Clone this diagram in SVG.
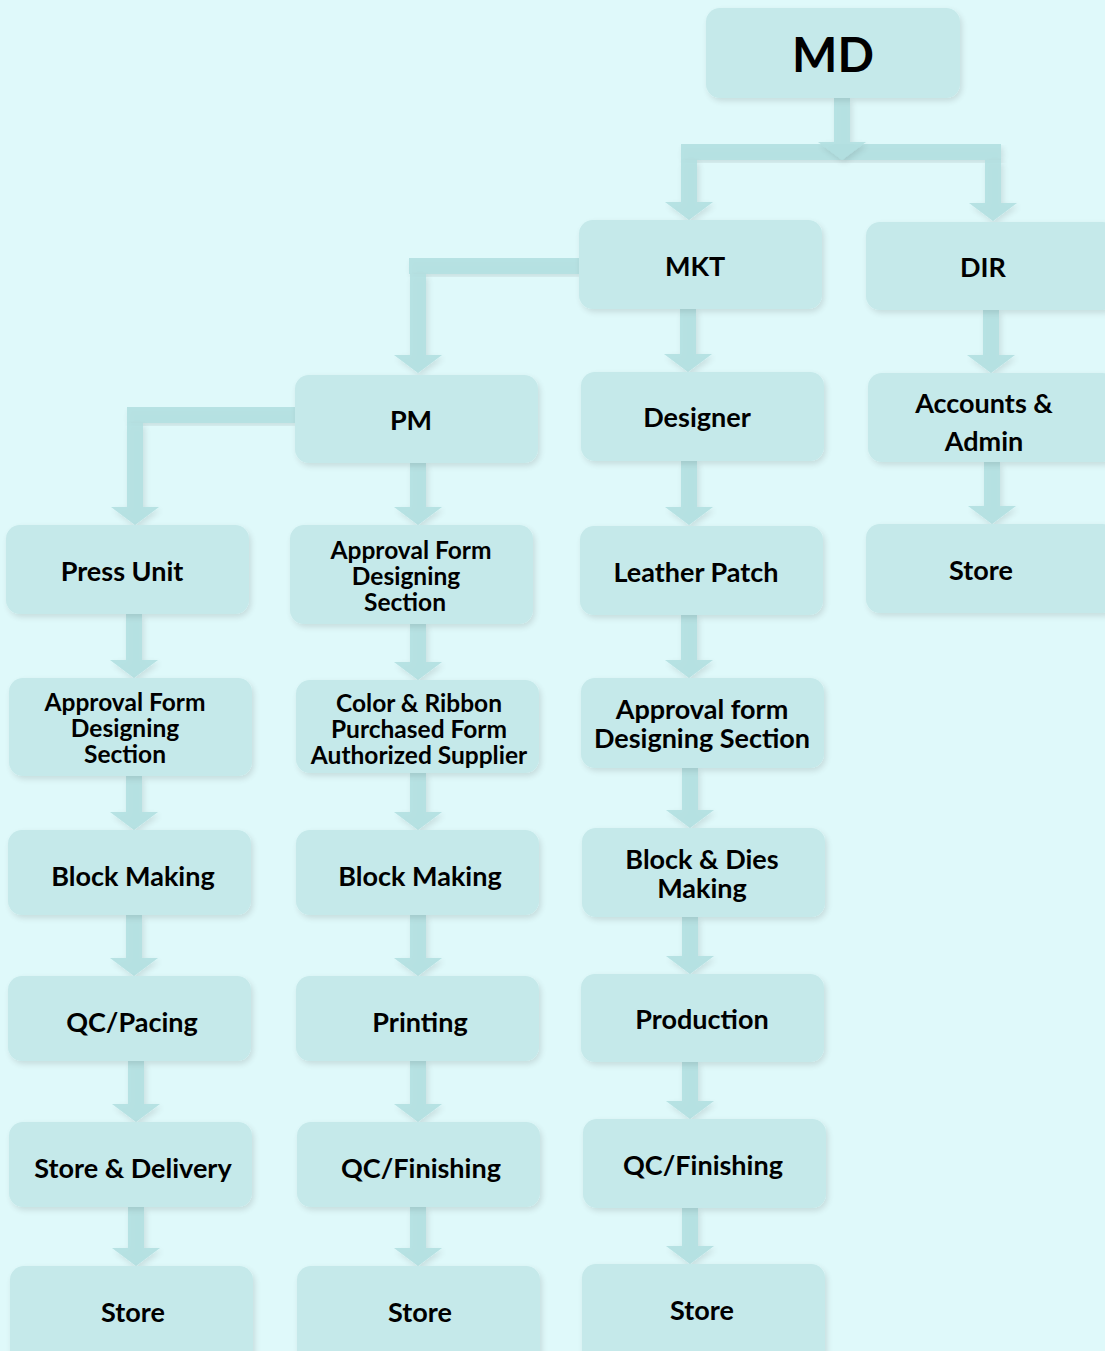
<svg xmlns="http://www.w3.org/2000/svg" width="1105" height="1351" viewBox="0 0 1105 1351">
<defs>
<filter id="sh" x="-10%" y="-10%" width="120%" height="125%">
<feGaussianBlur in="SourceAlpha" stdDeviation="3"/>
<feOffset dx="2" dy="3" result="b"/>
<feComponentTransfer><feFuncA type="linear" slope="0.12"/></feComponentTransfer>
<feMerge><feMergeNode/><feMergeNode in="SourceGraphic"/></feMerge>
</filter>
<style>
.n{fill:#c5e9ea;filter:url(#sh)}
.t{font-family:Lato,"Open Sans",sans-serif;font-weight:700;font-size:27px;fill:#000;text-anchor:middle;dominant-baseline:central}
.s{font-size:24.5px}
.c path,.c rect{fill:#b3e0e1;fill-opacity:0.9;filter:url(#sh)}
</style>
</defs>
<rect width="1105" height="1351" fill="#dff9fa"/>
<g class="c" id="connectors">
<rect x="681" y="144" width="320" height="16"/>
<path d="M834 98h16v44h16l-24 18l-24-18h16z"/>
<path d="M681 160h16v42h16l-24 18l-24-18h16z"/>
<path d="M985 160h16v43h16l-24 18l-24-18h16z"/>
<rect x="409" y="258" width="170" height="16"/>
<path d="M410 274h16v81h16l-24 18l-24-18h16z"/>
<path d="M680 309h16v45h16l-24 18l-24-18h16z"/>
<path d="M983 310h16v45h16l-24 18l-24-18h16z"/>
<rect x="127" y="407" width="168" height="16"/>
<path d="M127 423h16v84h16l-24 18l-24-18h16z"/>
<path d="M410 463h16v44h16l-24 18l-24-18h16z"/>
<path d="M681 461h16v46h16l-24 18l-24-18h16z"/>
<path d="M984 462h16v44h16l-24 18l-24-18h16z"/>
<path d="M126 614h16v46h16l-24 18l-24-18h16z"/>
<path d="M126 776h16v36h16l-24 18l-24-18h16z"/>
<path d="M126 915h16v43h16l-24 18l-24-18h16z"/>
<path d="M128 1061h16v43h16l-24 18l-24-18h16z"/>
<path d="M128 1207h16v41h16l-24 18l-24-18h16z"/>
<path d="M410 624h16v38h16l-24 18l-24-18h16z"/>
<path d="M410 773h16v39h16l-24 18l-24-18h16z"/>
<path d="M410 915h16v43h16l-24 18l-24-18h16z"/>
<path d="M410 1061h16v43h16l-24 18l-24-18h16z"/>
<path d="M410 1207h16v41h16l-24 18l-24-18h16z"/>
<path d="M681 615h16v45h16l-24 18l-24-18h16z"/>
<path d="M682 768h16v42h16l-24 18l-24-18h16z"/>
<path d="M682 917h16v39h16l-24 18l-24-18h16z"/>
<path d="M682 1062h16v39h16l-24 18l-24-18h16z"/>
<path d="M682 1208h16v38h16l-24 18l-24-18h16z"/>
</g>
<g id="md"><rect class="n" x="706" y="8" width="254" height="90" rx="14"/><text class="t" x="833" y="53" style="font-size:48px">MD</text></g>
<g id="mkt"><rect class="n" x="579" y="220" width="243" height="89" rx="14"/><text class="t" x="695" y="265">MKT</text></g>
<g id="dir"><rect class="n" x="866" y="222" width="250" height="88" rx="14"/><text class="t" x="983" y="266">DIR</text></g>
<g id="pm"><rect class="n" x="295" y="375" width="243" height="88" rx="14"/><text class="t" x="411" y="419">PM</text></g>
<g id="designer"><rect class="n" x="581" y="372" width="243" height="89" rx="14"/><text class="t" x="697" y="416">Designer</text></g>
<g id="accounts"><rect class="n" x="868" y="373" width="248" height="89" rx="14"/><text class="t" x="984" y="402">Accounts &amp;</text><text class="t" x="984" y="440">Admin</text></g>
<g id="press"><rect class="n" x="6" y="525" width="243" height="89" rx="14"/><text class="t" x="122" y="570">Press Unit</text></g>
<g id="approval2"><rect class="n" x="290" y="525" width="243" height="99" rx="14"/><text class="t s" x="411" y="549">Approval Form</text><text class="t s" x="406" y="575">Designing</text><text class="t s" x="405" y="601">Section</text></g>
<g id="leather"><rect class="n" x="580" y="526" width="243" height="89" rx="14"/><text class="t" x="696" y="571">Leather Patch</text></g>
<g id="store4"><rect class="n" x="866" y="524" width="250" height="89" rx="14"/><text class="t" x="981" y="569">Store</text></g>
<g id="approval1"><rect class="n" x="9" y="678" width="243" height="98" rx="14"/><text class="t s" x="125" y="701">Approval Form</text><text class="t s" x="125" y="727">Designing</text><text class="t s" x="125" y="753">Section</text></g>
<g id="color"><rect class="n" x="296" y="680" width="243" height="93" rx="14"/><text class="t s" x="419" y="702">Color &amp; Ribbon</text><text class="t s" x="419" y="728">Purchased Form</text><text class="t s" x="419" y="754">Authorized Supplier</text></g>
<g id="approval3"><rect class="n" x="581" y="678" width="243" height="90" rx="14"/><text class="t" x="702" y="708">Approval form</text><text class="t" x="702" y="737">Designing Section</text></g>
<g id="block1"><rect class="n" x="8" y="830" width="243" height="85" rx="14"/><text class="t" x="133" y="875">Block Making</text></g>
<g id="block2"><rect class="n" x="296" y="830" width="243" height="85" rx="14"/><text class="t" x="420" y="875">Block Making</text></g>
<g id="blockdies"><rect class="n" x="582" y="828" width="243" height="89" rx="14"/><text class="t" x="702" y="858">Block &amp; Dies</text><text class="t" x="702" y="887">Making</text></g>
<g id="qcpacing"><rect class="n" x="8" y="976" width="243" height="85" rx="14"/><text class="t" x="132" y="1021">QC/Pacing</text></g>
<g id="printing"><rect class="n" x="296" y="976" width="243" height="85" rx="14"/><text class="t" x="420" y="1021">Printing</text></g>
<g id="production"><rect class="n" x="581" y="974" width="243" height="88" rx="14"/><text class="t" x="702" y="1018">Production</text></g>
<g id="storedelivery"><rect class="n" x="9" y="1122" width="243" height="85" rx="14"/><text class="t" x="133" y="1167">Store &amp; Delivery</text></g>
<g id="qcfin2"><rect class="n" x="297" y="1122" width="243" height="85" rx="14"/><text class="t" x="421" y="1167">QC/Finishing</text></g>
<g id="qcfin3"><rect class="n" x="583" y="1119" width="243" height="89" rx="14"/><text class="t" x="703" y="1164">QC/Finishing</text></g>
<g id="store1"><rect class="n" x="10" y="1266" width="243" height="100" rx="14"/><text class="t" x="133" y="1311">Store</text></g>
<g id="store2"><rect class="n" x="297" y="1266" width="243" height="100" rx="14"/><text class="t" x="420" y="1311">Store</text></g>
<g id="store3"><rect class="n" x="582" y="1264" width="243" height="100" rx="14"/><text class="t" x="702" y="1309">Store</text></g>
</svg>
